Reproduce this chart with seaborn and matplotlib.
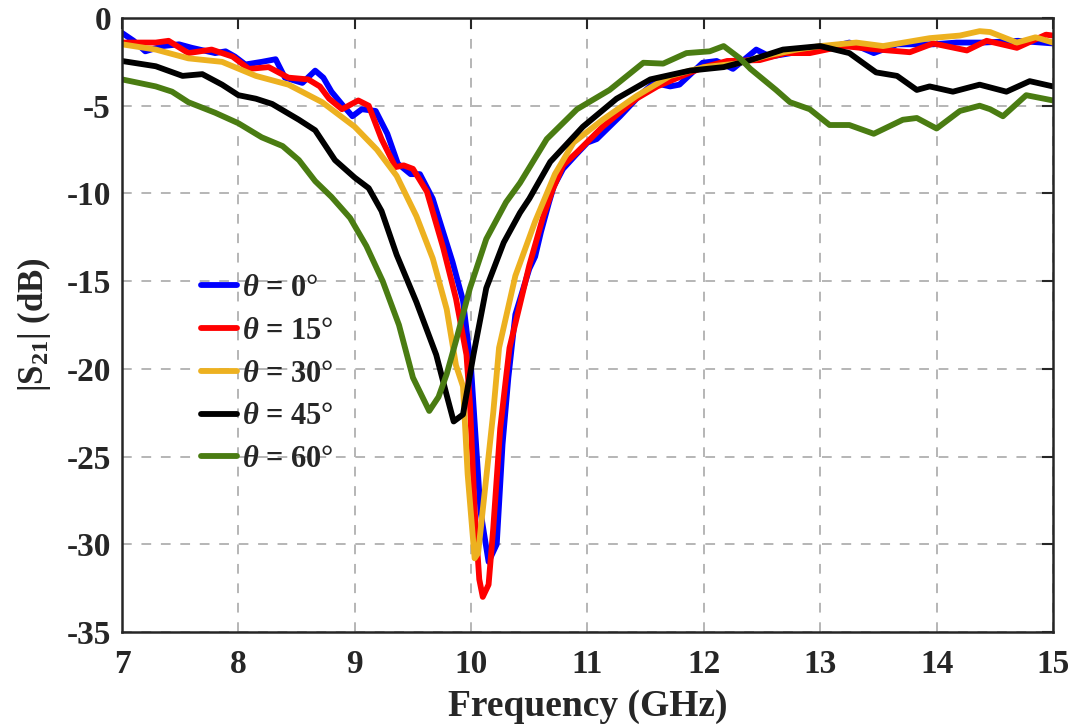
import seaborn as sns
import matplotlib.pyplot as plt
import pandas as pd

# |S21| (dB) vs frequency (GHz) for several incidence angles
f_0 = [7.0, 7.1, 7.2, 7.35, 7.49, 7.6, 7.8, 7.89, 7.97, 8.06, 8.2, 8.32, 8.4, 8.55, 8.66, 8.73,
       8.8, 8.9, 8.98, 9.06, 9.18, 9.28, 9.37, 9.48, 9.56, 9.67, 9.75, 9.84, 9.93, 10.0, 10.08,
       10.15, 10.22, 10.27, 10.32, 10.38, 10.5, 10.55, 10.6, 10.67, 10.71, 10.79, 10.9, 11.0,
       11.08, 11.28, 11.45, 11.57, 11.71, 11.79, 11.99, 12.11, 12.25, 12.45, 12.57, 12.75, 13.0,
       13.25, 13.46, 13.66, 13.97, 14.17, 14.4, 14.7, 15.0]
s_0 = [-0.85, -1.3, -1.9, -1.6, -1.5, -1.7, -2.0, -1.9, -2.2, -2.65, -2.5, -2.35, -3.4, -3.7,
       -3.0, -3.4, -4.2, -5.0, -5.6, -5.2, -5.3, -6.6, -8.3, -8.9, -8.9, -10.3, -12.0, -13.9,
       -16.1, -20.0, -28.1, -31.0, -30.0, -24.3, -20.5, -16.9, -14.3, -13.6, -12.2, -10.5, -9.6,
       -8.6, -7.8, -7.1, -6.9, -5.6, -4.4, -3.7, -3.9, -3.8, -2.55, -2.45, -2.9, -1.8, -2.2,
       -2.0, -1.8, -1.4, -2.0, -1.5, -1.5, -1.4, -1.4, -1.3, -1.45]

f_15 = [7.0, 7.29, 7.4, 7.57, 7.77, 7.95, 8.09, 8.26, 8.43, 8.6, 8.7, 8.78, 8.89, 9.03, 9.12,
        9.23, 9.35, 9.42, 9.5, 9.62, 9.76, 9.87, 9.96, 9.99, 10.03, 10.07, 10.1, 10.15, 10.19,
        10.25, 10.3, 10.33, 10.5, 10.62, 10.7, 10.79, 10.91, 11.13, 11.42, 11.6, 11.85, 12.0,
        12.2, 12.48, 12.7, 12.91, 13.2, 13.5, 13.77, 13.97, 14.26, 14.43, 14.69, 14.94, 15.0]
s_15 = [-1.4, -1.4, -1.3, -2.0, -1.8, -2.2, -2.9, -2.8, -3.4, -3.5, -3.9, -4.6, -5.2, -4.7,
        -5.0, -6.9, -8.5, -8.4, -8.6, -9.9, -13.1, -16.0, -19.2, -22.0, -28.0, -32.0, -33.0,
        -32.3, -29.1, -23.4, -20.5, -18.8, -14.1, -11.3, -9.8, -8.4, -7.65, -6.2, -4.6, -3.9,
        -3.2, -2.8, -2.45, -2.4, -2.0, -2.0, -1.6, -1.8, -1.95, -1.45, -1.85, -1.3, -1.7,
        -0.95, -1.0]

f_30 = [7.0, 7.29, 7.57, 7.86, 8.15, 8.43, 8.72, 9.0, 9.19, 9.36, 9.53, 9.67, 9.79, 9.87, 9.93,
        9.97, 10.03, 10.06, 10.13, 10.19, 10.24, 10.38, 10.55, 10.72, 10.88, 11.13, 11.42, 11.71,
        12.0, 12.28, 12.57, 12.8, 13.0, 13.31, 13.54, 13.94, 14.2, 14.37, 14.46, 14.69, 14.85, 15.0]
s_30 = [-1.5, -1.8, -2.3, -2.5, -3.3, -3.8, -4.8, -6.2, -7.5, -9.0, -11.3, -13.7, -16.6, -19.8,
        -21.0, -26.0, -30.8, -30.5, -26.2, -22.5, -18.8, -14.7, -11.6, -8.9, -7.1, -5.8, -4.45,
        -3.3, -2.8, -2.6, -2.1, -1.8, -1.6, -1.4, -1.6, -1.15, -1.0, -0.75, -0.8, -1.4, -1.1, -1.4]

f_45 = [7.0, 7.29, 7.52, 7.69, 7.86, 8.0, 8.15, 8.29, 8.52, 8.66, 8.83, 9.0, 9.12, 9.23, 9.36,
        9.53, 9.7, 9.79, 9.85, 9.93, 10.02, 10.13, 10.28, 10.42, 10.5, 10.68, 10.96, 11.25, 11.54,
        11.88, 12.17, 12.4, 12.68, 13.0, 13.25, 13.48, 13.66, 13.83, 13.94, 14.14, 14.37, 14.6,
        14.8, 15.0]
s_45 = [-2.45, -2.75, -3.3, -3.2, -3.8, -4.4, -4.6, -4.9, -5.8, -6.4, -8.1, -9.1, -9.7, -11.0,
        -13.5, -16.2, -19.2, -21.5, -23.0, -22.6, -19.2, -15.4, -12.8, -11.1, -10.3, -8.2, -6.2,
        -4.6, -3.5, -3.0, -2.8, -2.4, -1.8, -1.6, -2.0, -3.1, -3.3, -4.1, -3.9, -4.2, -3.8, -4.2,
        -3.6, -3.9]

f_60 = [7.0, 7.29, 7.43, 7.57, 7.8, 8.0, 8.2, 8.38, 8.52, 8.66, 8.8, 8.96, 9.1, 9.24, 9.38,
        9.5, 9.64, 9.72, 9.79, 9.87, 9.99, 10.13, 10.3, 10.42, 10.65, 10.91, 11.19, 11.48, 11.65,
        11.85, 12.05, 12.17, 12.31, 12.4, 12.62, 12.74, 12.91, 13.08, 13.25, 13.46, 13.71, 13.83,
        14.0, 14.2, 14.37, 14.46, 14.57, 14.77, 15.0]
s_60 = [-3.5, -3.9, -4.2, -4.8, -5.4, -6.0, -6.8, -7.3, -8.1, -9.3, -10.2, -11.4, -13.0, -15.0,
        -17.5, -20.5, -22.4, -21.6, -20.3, -18.4, -15.4, -12.6, -10.5, -9.4, -6.9, -5.2, -4.1,
        -2.55, -2.6, -2.0, -1.9, -1.6, -2.3, -2.9, -4.1, -4.8, -5.2, -6.1, -6.1, -6.6, -5.8,
        -5.7, -6.3, -5.3, -5.0, -5.2, -5.6, -4.4, -4.7]

labels = [r"$\theta$ = 0°", r"$\theta$ = 15°", r"$\theta$ = 30°", r"$\theta$ = 45°", r"$\theta$ = 60°"]
colors = ["#0000FF", "#FF0000", "#EDB120", "#000000", "#4A7C12"]

frames = []
for lab, f, s in zip(labels, [f_0, f_15, f_30, f_45, f_60], [s_0, s_15, s_30, s_45, s_60]):
    frames.append(pd.DataFrame({"freq": f, "s21": s, "angle": lab}))
df = pd.concat(frames, ignore_index=True)

sns.set_style("white")
plt.rcParams["font.family"] = ["Liberation Serif", "DejaVu Serif"]
plt.rcParams["font.weight"] = "bold"
plt.rcParams["axes.unicode_minus"] = False
plt.rcParams["mathtext.fontset"] = "custom"
plt.rcParams["mathtext.rm"] = "Liberation Serif:bold"
plt.rcParams["mathtext.it"] = "Liberation Serif:bold:italic"
plt.rcParams["mathtext.bf"] = "Liberation Serif:bold"
plt.rcParams["lines.solid_joinstyle"] = "round"
plt.rcParams["lines.solid_capstyle"] = "round"

fig = plt.figure(figsize=(10.76, 7.26), dpi=100)
ax = fig.add_axes([0.1134, 0.1295, 0.8652, 0.8457])

sns.lineplot(data=df, x="freq", y="s21", hue="angle", palette=colors, estimator=None,
             sort=False, linewidth=4.2, ax=ax, legend=False)

ax.set_xlim(7, 15)
ax.set_ylim(-35, 0)
ax.set_xticks(range(7, 16))
ax.set_yticks(range(-35, 1, 5))
ax.grid(True, linestyle=(0, (5, 5)), color="#b5b5b5", linewidth=1.4)
ax.tick_params(direction="in", length=8, width=1.5, top=True, right=True,
               labelsize=24, colors="#262626")
ax.tick_params(axis="x", pad=12)
ax.tick_params(axis="y", pad=8)
for sp in ax.spines.values():
    sp.set_linewidth(1.8)
    sp.set_color("#262626")

ax.set_xlabel("Frequency (GHz)", fontsize=27, fontweight="bold", color="#262626", labelpad=7)
ax.set_ylabel(r"|S$_{21}$| (dB)", fontsize=25, fontweight="bold", color="#262626", labelpad=10)

handles = [plt.Line2D([], [], color=c, linewidth=4.2) for c in colors]
ax.legend(handles, labels, loc="center left", bbox_to_anchor=(0.055, 0.42), frameon=False,
          handlelength=1.2, handletextpad=0.15, labelspacing=0.45,
          prop={"weight": "bold", "size": 22})

fig.savefig("out.png", dpi=100)
